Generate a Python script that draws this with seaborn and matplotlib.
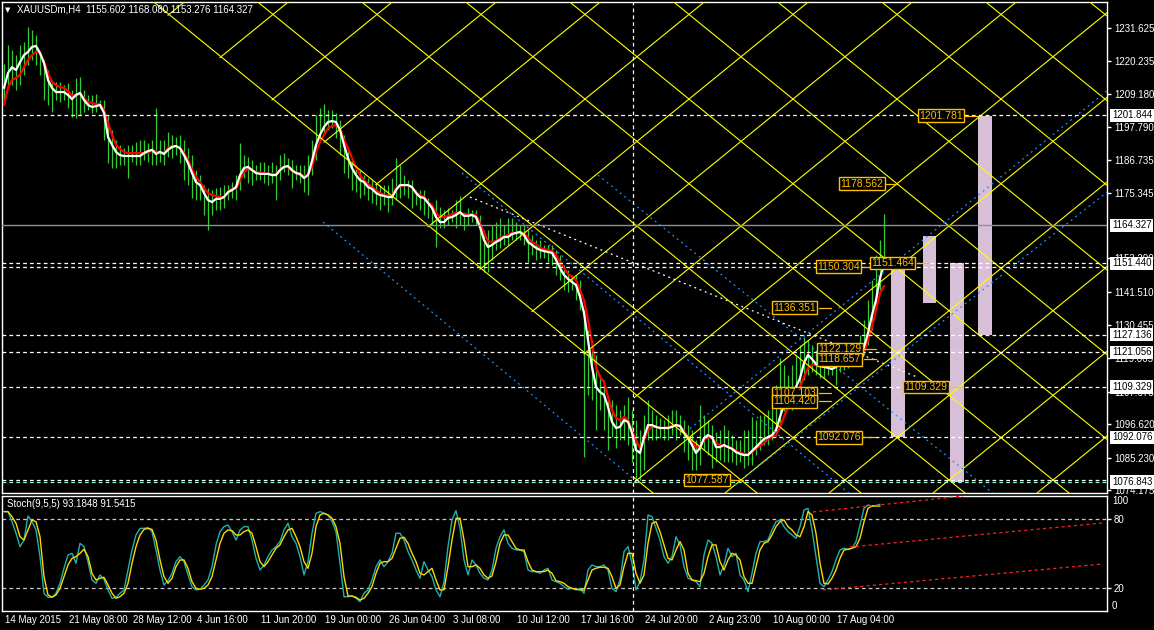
import numpy as np
import pandas as pd
import matplotlib
matplotlib.use("Agg")
import matplotlib.pyplot as plt
import matplotlib.transforms as mtransforms
from matplotlib.collections import LineCollection
from matplotlib.patches import Polygon, Rectangle
import seaborn as sns

# ------------------------------------------------------------------ data
# one sample every 2 H4 bars (bar index = 2*i)
ma_fast = [1211.2,1216.3,1218.3,1217.3,1220.0,1222.4,1223.5,1225.2,1225.5,1223.1,
           1219.7,1213.9,1211.2,1209.8,1209.8,1209.8,1208.8,1207.4,1208.8,1209.5,
           1207.1,1205.4,1204.7,1205.0,1205.4,1202.7,1194.5,1191.8,1189.4,1188.3,
           1188.0,1188.0,1188.0,1188.0,1188.0,1189.0,1189.7,1190.1,1188.7,1189.4,
           1188.7,1190.1,1191.1,1191.4,1190.7,1188.3,1185.6,1182.2,1179.1,1178.1,
           1175.4,1173.0,1172.3,1173.4,1173.4,1174.0,1175.7,1176.4,1177.4,1181.5,
           1183.9,1184.3,1183.2,1182.2,1181.9,1181.9,1181.9,1181.5,1181.5,1183.2,
           1184.3,1184.6,1183.2,1182.2,1181.9,1180.5,1181.5,1186.3,1191.8,1195.2,
           1197.9,1199.6,1199.9,1199.6,1196.9,1191.8,1187.3,1183.9,1181.5,1179.8,
           1179.1,1177.4,1176.8,1175.4,1174.7,1174.4,1174.0,1174.0,1176.4,1178.1,
           1178.1,1178.1,1177.4,1175.4,1174.0,1173.7,1172.0,1170.3,1167.2,1165.5,
           1165.5,1166.9,1167.2,1167.9,1168.9,1167.6,1167.6,1167.9,1167.2,1163.8,
           1159.4,1157.0,1157.7,1158.7,1159.4,1160.4,1160.4,1161.4,1161.8,1162.1,
           1161.1,1158.7,1157.7,1156.7,1156.0,1155.6,1155.3,1155.0,1152.6,1149.8,
           1147.5,1146.1,1145.1,1144.0,1140.0,1134.5,1125.3,1116.1,1109.3,1107.6,
           1106.6,1102.5,1097.4,1095.3,1095.7,1098.0,1097.4,1093.6,1087.8,1086.8,
           1092.2,1096.3,1096.3,1095.7,1095.3,1095.3,1095.3,1095.7,1096.3,1096.0,
           1093.6,1091.9,1089.5,1086.8,1088.5,1091.9,1092.9,1092.2,1088.8,1088.8,
           1089.5,1088.8,1088.2,1087.1,1086.5,1086.1,1086.1,1087.5,1088.8,1090.2,
           1091.6,1092.2,1092.9,1094.6,1099.1,1103.1,1105.5,1107.2,1109.3,1112.3,
           1117.5,1120.2,1118.8,1117.1,1116.4,1116.1,1115.8,1115.4,1116.1,1117.1,
           1117.8,1118.1,1118.5,1118.8,1119.5,1122.9,1127.7,1133.8,1138.9,1146.4,1150.9]

ma_slow = [1205.4,1211.2,1213.9,1214.6,1215.6,1218.3,1220.7,1222.4,1223.5,1223.1,
           1220.0,1216.3,1213.2,1212.2,1211.5,1211.2,1210.2,1208.5,1208.8,1209.1,
           1207.8,1206.4,1206.1,1205.7,1205.7,1203.7,1199.3,1195.2,1191.8,1190.4,
           1189.4,1189.0,1189.0,1189.0,1189.0,1189.0,1189.0,1190.1,1189.4,1189.4,
           1189.0,1190.7,1191.4,1191.4,1190.7,1189.0,1186.6,1183.6,1180.9,1179.1,
           1177.1,1175.4,1174.7,1174.4,1174.0,1174.0,1175.7,1176.8,1176.8,1179.8,
           1182.6,1183.6,1183.2,1182.6,1182.2,1182.2,1181.9,1181.9,1181.9,1183.2,
           1184.3,1184.3,1182.9,1182.2,1181.5,1181.2,1181.5,1184.3,1189.4,1192.8,
           1195.2,1197.5,1198.2,1198.6,1197.5,1193.5,1190.7,1187.3,1184.3,1181.5,
           1179.8,1178.5,1177.4,1176.4,1175.4,1174.7,1174.4,1174.4,1177.1,1177.8,
           1178.1,1178.1,1177.4,1175.7,1174.7,1174.0,1172.3,1171.3,1168.6,1167.2,
           1167.2,1167.6,1168.2,1168.6,1168.6,1168.2,1168.2,1168.2,1167.9,1165.2,
           1161.8,1159.0,1158.7,1159.0,1160.1,1160.7,1161.1,1161.8,1161.8,1162.1,
           1161.8,1160.1,1158.7,1158.0,1156.7,1156.3,1156.0,1155.6,1154.3,1151.9,
           1149.8,1147.8,1146.8,1145.7,1142.3,1138.9,1132.1,1124.3,1116.1,1112.7,
           1111.0,1105.9,1101.4,1098.7,1098.0,1099.1,1098.0,1094.6,1091.2,1088.5,
           1091.2,1094.6,1095.7,1095.7,1095.3,1095.3,1095.7,1096.0,1096.3,1096.0,
           1094.3,1092.2,1090.5,1088.8,1088.8,1091.2,1092.2,1091.9,1090.2,1089.5,
           1089.5,1088.8,1088.5,1087.5,1086.8,1086.5,1086.5,1087.1,1088.5,1089.2,
           1090.2,1091.6,1092.2,1092.9,1095.7,1099.1,1102.5,1104.9,1107.2,1109.3,
           1112.7,1115.8,1116.8,1116.8,1116.8,1116.8,1116.4,1116.1,1116.4,1116.8,
           1117.5,1117.5,1117.8,1118.5,1119.2,1121.2,1125.3,1129.7,1135.5,1141.3,1143.7]

bar_high = [1219.4,1225.8,1224.1,1222.4,1225.8,1226.9,1232.0,1230.9,1229.2,1222.4,
            1220.7,1217.3,1213.9,1213.2,1213.2,1212.2,1212.9,1210.5,1214.6,1214.9,
            1210.5,1208.8,1208.8,1209.1,1207.1,1207.1,1202.0,1196.9,1193.5,1191.8,
            1190.7,1191.8,1191.8,1192.8,1193.5,1193.5,1192.4,1193.5,1204.4,1193.5,
            1193.5,1196.2,1195.2,1194.5,1195.2,1193.5,1190.7,1188.3,1183.2,1181.5,
            1178.1,1177.1,1176.4,1177.1,1177.4,1178.1,1178.1,1179.1,1181.5,1192.4,
            1188.3,1187.7,1186.6,1184.9,1186.0,1186.0,1184.9,1186.0,1184.9,1188.3,
            1189.0,1187.3,1186.6,1184.9,1184.9,1184.9,1188.3,1193.5,1202.0,1204.4,
            1205.7,1203.7,1203.7,1202.7,1200.3,1195.2,1190.1,1186.6,1184.9,1183.2,
            1181.5,1180.5,1179.8,1178.8,1178.1,1178.1,1178.1,1180.5,1187.3,1184.9,
            1181.5,1179.8,1179.8,1176.4,1176.4,1176.4,1173.7,1171.3,1173.0,1170.6,
            1169.6,1170.3,1169.6,1173.0,1174.4,1168.9,1170.3,1169.6,1169.6,1167.9,
            1162.8,1162.8,1164.5,1165.5,1166.9,1164.5,1166.9,1166.9,1165.5,1164.5,
            1164.5,1162.8,1161.1,1159.4,1159.4,1157.7,1157.7,1157.7,1156.0,1154.3,
            1150.9,1149.2,1147.5,1147.5,1145.7,1135.5,1128.7,1125.3,1120.2,1113.4,
            1111.7,1104.9,1104.9,1103.1,1101.4,1103.1,1105.9,1101.4,1098.0,1094.6,
            1099.7,1104.9,1101.4,1099.7,1098.7,1098.0,1099.7,1101.4,1101.4,1099.7,
            1098.0,1096.3,1094.6,1091.2,1103.1,1099.7,1098.0,1096.3,1093.9,1094.6,
            1096.3,1094.6,1092.9,1091.2,1091.2,1094.6,1094.6,1099.1,1098.0,1099.7,
            1099.7,1101.4,1104.9,1109.9,1119.2,1116.8,1113.4,1116.8,1120.2,1123.6,
            1126.3,1125.3,1123.6,1121.9,1120.2,1120.2,1120.2,1120.2,1118.5,1120.2,
            1120.2,1121.2,1121.9,1123.6,1127.0,1132.1,1138.9,1145.7,1154.3,1159.4,1168.2]

bar_low = [1207.1,1212.2,1212.2,1210.5,1212.2,1215.6,1219.0,1220.7,1219.0,1215.6,
           1207.1,1205.4,1203.0,1207.1,1206.4,1207.1,1204.4,1201.3,1200.9,1202.0,
           1203.0,1203.7,1202.7,1203.0,1204.4,1193.5,1185.6,1183.9,1183.9,1184.9,
           1184.9,1180.5,1186.0,1184.9,1184.9,1186.6,1186.0,1184.9,1184.9,1186.0,
           1184.9,1187.7,1187.3,1188.3,1185.6,1179.8,1178.1,1173.7,1173.0,1173.0,
           1167.9,1162.8,1167.9,1169.6,1169.6,1170.3,1173.0,1173.7,1173.0,1176.4,
           1180.5,1178.8,1178.1,1179.8,1179.8,1178.8,1178.1,1178.8,1173.0,1179.8,
           1182.6,1181.5,1177.1,1179.8,1178.8,1175.7,1174.7,1181.5,1186.6,1193.5,
           1195.2,1196.9,1197.5,1194.1,1188.3,1182.2,1180.5,1176.4,1175.7,1173.7,
           1174.7,1173.0,1172.0,1171.3,1169.6,1171.3,1168.9,1171.3,1173.0,1173.7,
           1174.7,1173.7,1170.3,1171.3,1169.6,1167.9,1166.9,1164.5,1157.0,1163.5,
           1163.5,1164.5,1165.5,1163.5,1164.5,1162.8,1164.5,1165.5,1164.5,1149.8,
           1148.5,1148.5,1152.6,1156.0,1156.7,1157.7,1157.7,1159.4,1159.4,1159.4,
           1157.7,1151.9,1154.3,1152.6,1153.2,1153.2,1151.9,1150.9,1147.5,1145.7,
           1142.3,1141.7,1142.3,1138.9,1135.5,1085.4,1106.6,1104.9,1094.6,1101.4,
           1094.6,1087.8,1092.2,1088.5,1091.2,1091.2,1089.5,1083.7,1078.3,1077.6,
           1081.0,1091.2,1091.2,1091.2,1091.9,1091.2,1091.2,1092.9,1091.2,1092.9,
           1087.1,1084.4,1081.0,1081.0,1082.7,1087.8,1086.1,1081.7,1083.7,1084.4,
           1083.7,1083.7,1083.7,1082.7,1083.7,1081.7,1082.7,1082.7,1086.1,1087.8,
           1089.5,1089.5,1091.2,1092.5,1096.3,1101.0,1103.1,1101.4,1104.9,1106.6,
           1111.7,1113.4,1114.4,1113.4,1112.3,1112.3,1113.4,1113.4,1110.0,1114.4,
           1115.1,1115.8,1116.8,1116.8,1118.5,1120.2,1123.6,1128.7,1135.5,1142.3,1149.5]

stoch_main = [86.7,86.7,77.9,67.8,56.1,61.9,82.9,77.9,70.7,47.4,
              15.4,11.9,11.9,15.4,24.1,37.2,48.8,50.3,41.6,59.0,
              56.1,43.0,27.0,24.1,31.4,27.6,18.3,11.0,11.9,15.4,
              18.3,35.7,53.2,66.3,72.1,72.1,72.7,69.2,53.2,35.7,
              22.6,26.4,32.8,43.0,47.4,43.0,31.4,21.2,18.3,18.9,
              22.6,27.0,38.6,57.6,69.2,73.6,75.0,69.2,61.9,70.7,
              73.6,73.6,61.9,45.9,35.7,40.1,47.4,53.2,56.1,60.5,
              70.7,76.5,64.8,59.0,47.4,31.4,43.0,67.8,85.2,86.7,
              85.2,83.8,77.9,69.2,41.6,12.4,12.4,13.0,11.0,8.1,
              15.4,18.3,27.0,38.6,44.5,38.6,43.0,50.3,67.8,67.8,
              61.9,51.7,44.5,35.7,28.5,43.0,35.7,29.9,18.3,12.4,
              25.5,56.1,79.4,87.6,72.1,44.5,31.4,44.5,40.1,32.8,
              28.5,27.0,35.7,54.7,64.8,70.7,59.0,54.7,53.2,53.2,
              51.7,35.7,34.3,34.3,32.8,35.7,37.2,27.0,25.5,24.1,
              21.2,18.9,19.7,18.3,19.7,15.4,35.7,40.1,38.6,38.6,
              40.1,35.7,19.7,16.8,27.0,51.7,56.1,41.6,18.3,25.5,
              44.5,83.8,82.3,72.1,61.9,47.4,41.6,47.4,64.8,57.6,
              38.6,28.5,27.0,25.5,21.2,48.8,61.9,59.0,47.4,31.4,
              40.1,54.7,47.4,50.3,31.4,27.0,16.8,32.8,50.3,60.5,
              60.5,61.9,70.7,77.9,79.4,73.6,69.2,66.3,63.4,73.6,
              88.1,89.6,70.7,47.4,24.1,21.2,27.0,34.3,44.5,53.2,
              54.7,53.8,54.7,60.5,75.0,89.6,92.5,91.6,91.9,93.2]

stoch_signal = [86.7,86.7,82.3,76.5,64.8,61.9,70.7,79.4,77.9,64.8,
                29.9,13.9,11.9,13.9,19.7,29.9,40.1,45.9,47.4,50.3,
                53.8,47.4,32.8,27.0,28.5,29.3,22.6,15.4,11.0,12.4,
                15.4,24.1,41.6,56.1,66.3,71.2,72.1,71.2,61.9,44.5,
                29.9,24.1,28.5,38.6,44.5,44.5,37.2,25.5,19.7,18.9,
                19.7,22.6,29.9,44.5,59.0,67.8,70.7,70.1,66.3,66.3,
                69.2,70.7,67.8,56.1,43.0,38.6,43.0,48.8,54.7,57.6,
                64.8,70.7,72.1,64.8,56.1,43.0,37.2,50.3,73.6,83.8,
                85.2,83.8,80.9,73.6,59.0,29.9,13.0,13.0,11.9,9.5,
                11.0,15.4,21.2,32.8,41.6,43.0,43.0,45.9,54.7,63.4,
                64.3,59.0,50.3,43.0,32.8,31.4,34.3,37.2,27.0,18.3,
                18.3,38.6,61.9,80.9,80.9,61.9,38.6,38.6,40.1,37.2,
                31.4,28.5,30.5,43.0,59.0,66.3,66.3,60.5,54.7,53.2,
                53.2,43.0,35.7,34.3,34.3,34.3,35.7,32.8,26.4,25.5,
                24.1,21.2,19.7,18.9,18.3,18.3,27.0,35.7,37.2,38.1,
                38.1,37.2,29.9,19.7,22.6,38.6,50.3,50.3,32.8,24.1,
                31.4,59.0,76.5,77.9,69.2,57.6,45.9,44.5,53.2,60.5,
                53.2,32.8,27.0,26.4,25.5,32.8,47.4,57.6,57.6,43.0,
                35.7,44.5,50.3,48.8,44.5,29.9,24.1,24.1,38.6,53.2,
                59.0,60.5,66.3,73.6,77.9,79.4,73.6,70.7,66.3,64.8,
                73.6,86.7,83.8,67.8,41.6,24.1,23.5,28.5,35.7,45.9,
                53.2,53.8,54.7,56.1,63.4,77.9,89.6,91.6,91.6,91.5]

header_text = "XAUUSDm,H4  1155.602 1168.080 1153.276 1164.327"
stoch_title = "Stoch(9,5,5) 93.1848 91.5415"
bid_price = 1164.327

levels_white = [1201.844, 1151.464, 1150.304, 1127.136, 1121.056, 1109.329, 1092.076, 1077.587]
levels_aqua = [1076.843]

axis_plain = [1231.625, 1220.235, 1209.180, 1197.790, 1186.735, 1175.345, 1153.290,
              1141.510, 1130.455, 1119.065, 1107.675, 1096.620, 1085.230, 1074.175]
axis_marked = [1201.844, 1164.327, 1151.440, 1127.136, 1121.056, 1109.329, 1092.076, 1076.843]

date_bars = [0, 32, 64, 96, 128, 160, 192, 224, 256, 288, 320, 352, 384, 416]
date_labels = ["14 May 2015", "21 May 08:00", "28 May 12:00", "4 Jun 16:00", "11 Jun 20:00",
               "19 Jun 00:00", "26 Jun 04:00", "3 Jul 08:00", "10 Jul 12:00", "17 Jul 16:00",
               "24 Jul 20:00", "2 Aug 23:00", "10 Aug 00:00", "17 Aug 04:00"]

# price labels drawn on the chart: text, bar of left edge, price
tag_text = ["1201.781", "1178.562", "1150.304", "1151.464", "1136.351", "1122.129",
            "1118.657", "1107.103", "1104.420", "1109.329", "1092.076", "1077.587"]
tag_bar = [457, 417.5, 406, 433, 384, 406.5, 406.5, 384, 384, 449.5, 406, 340]
tag_price = [1201.781, 1178.562, 1150.304, 1151.464, 1136.351, 1122.129,
             1118.657, 1107.103, 1104.420, 1109.329, 1092.076, 1077.587]

# projection boxes (bar centre, top price, bottom price)
box_bar = [447.5, 463.3, 477.0, 491.0]
box_top = [1150.304, 1160.8, 1151.464, 1201.781]
box_bottom = [1092.076, 1137.9, 1076.843, 1127.136]

# Gann grid: anchor at the 1077.587 low, 26 bars x 14.425 per half cell
gann_anchor_bar = 317
gann_anchor_price = 1077.587
gann_half_bars = 26.0
gann_half_price = 14.425

# channel lines (bar, price) pairs
blue_lines = [((160, 1165.5), (318.5, 1076.2)),
              ((229.5, 1182.2), (423.5, 1072.8)),
              ((297.5, 1181.5), (496, 1072.5)),
              ((343.5, 1095.1), (552, 1210.2)),
              ((366, 1075.9), (552, 1175.7))]
white_trend = ((233.5, 1174.0), (457, 1112.7))
stoch_trends = [((405, 86.4), (480, 100.3)),
                ((423.5, 55.8), (550, 76.8)),
                ((410, 18.3), (550, 41.0))]
cursor_bar = 315

# ------------------------------------------------------------------ style
sns.set_theme(style="dark", rc={"axes.facecolor": "black", "figure.facecolor": "black",
                                "axes.grid": False, "axes.edgecolor": "white",
                                "text.color": "white", "xtick.color": "white",
                                "ytick.color": "white"})
plt.rcParams["font.family"] = ["Liberation Sans", "DejaVu Sans"]

W, H = 1154, 630
fig = plt.figure(figsize=(W / 100, H / 100), dpi=100, facecolor="black")


def px_axes(x0, y0, x1, y1):
    return fig.add_axes([x0 / W, 1 - y1 / H, (x1 - x0) / W, (y1 - y0) / H])


ax = px_axes(2, 2, 1107, 493)
ax2 = px_axes(2, 496, 1107, 611)
XMIN, XMAX = -0.5, 552
YMIN, YMAX = 1073.16, 1240.49

for a in (ax, ax2):
    a.set_facecolor("black")
    a.set_xlim(XMIN, XMAX)
    for sp in a.spines.values():
        sp.set_color("white")
        sp.set_linewidth(1.0)
ax.set_ylim(YMIN, YMAX)
ax2.set_ylim(-0.1, 100.35)

n = len(ma_fast)
xb = 2 * np.arange(n) + 0.5
df = pd.DataFrame({"bar": xb, "fast": ma_fast, "slow": ma_slow,
                   "high": bar_high, "low": bar_low})

# projection boxes
for b, t, bt in zip(box_bar, box_top, box_bottom):
    ax.add_patch(Rectangle((b - 3.3, bt), 6.6, t - bt, facecolor="#D8BFD8",
                           edgecolor="none", zorder=1))

# price bars
ax.vlines(df["bar"], df["low"], df["high"], color="#32CD32", linewidth=0.9, zorder=2)

# moving averages
sns.lineplot(data=df, x="bar", y="slow", ax=ax, color="#FF0000", linewidth=1.6,
             legend=False, zorder=3)
sns.lineplot(data=df, x="bar", y="fast", ax=ax, color="white", linewidth=1.6,
             legend=False, zorder=3.5)

# Gann grid
s = gann_half_price / gann_half_bars
step = 2 * gann_half_price
cd0 = gann_anchor_price + s * gann_anchor_bar
ca0 = gann_anchor_price - s * gann_anchor_bar
b0, b1 = -2.0, 560.0
segs = []
for k in range(-12, 16):
    c = cd0 + k * step
    segs.append([(b0, c - s * b0), (b1, c - s * b1)])
    c = ca0 + k * step
    segs.append([(b0, c + s * b0), (b1, c + s * b1)])
cb = cd0 + step - 0.8          # lower-left border of the grid (slightly widened)
ytop = YMAX + 10
ybot = YMIN - 10
clip = Polygon([((cb - ytop) / s, ytop), (gann_anchor_bar - 1.5, cb - s * (gann_anchor_bar - 1.5)),
                (gann_anchor_bar - 1.5, ybot), (b1, ybot), (b1, ytop)], closed=True,
               transform=ax.transData, facecolor="none", edgecolor="none")
lc = LineCollection(segs, colors="#FFFF00", linewidths=0.8, zorder=4)
ax.add_collection(lc)
lc.set_clip_path(clip)

# channel lines
for (p, q) in blue_lines:
    ax.plot([p[0], q[0]], [p[1], q[1]], color="#1E90FF", linewidth=0.9,
            linestyle=(0, (1.5, 3)), zorder=4)
ax.plot([white_trend[0][0], white_trend[1][0]], [white_trend[0][1], white_trend[1][1]],
        color="white", linewidth=0.9, linestyle=(0, (1.5, 3)), zorder=4)

# horizontal levels
for lv in levels_white:
    ax.axhline(lv, color="white", linewidth=0.9, linestyle=(0, (3, 2.5)), zorder=4)
for lv in levels_aqua:
    ax.axhline(lv, color="#7FFFD4", linewidth=0.9, linestyle=(0, (3, 2.5)), zorder=4)
ax.axhline(bid_price, color="#909090", linewidth=1.0, zorder=4)
ax.axvline(cursor_bar, color="white", linewidth=0.9, linestyle=(0, (3, 2.5)), zorder=4)
ax2.axvline(cursor_bar, color="white", linewidth=0.9, linestyle=(0, (3, 2.5)), zorder=4)

# on-chart price tags
for t, b, p in zip(tag_text, tag_bar, tag_price):
    ax.text(b + 1.2, p, t, color="#FFC000", fontsize=7.5, ha="left", va="center",
            zorder=6, bbox=dict(boxstyle="square,pad=0.12", facecolor="black",
                                edgecolor="#FFC000", linewidth=1.0))
    ax.plot([b + 24, b + 30], [p, p], color="#FFC000", linewidth=0.9, zorder=5)

# right price axis
ax.yaxis.tick_right()
ax.set_yticks(axis_plain)
ax.set_yticklabels([f"{v:.3f}" for v in axis_plain])
ax.tick_params(axis="y", colors="white", length=3, width=1, pad=2, labelsize=7)
ax.tick_params(axis="x", bottom=False, labelbottom=False)
ax.set_xlabel("")
ax.set_ylabel("")
tr = mtransforms.blended_transform_factory(ax.transAxes, ax.transData)
for v in axis_marked:
    ax.text(1.0045, v, f"{v:.3f}", transform=tr, ha="left", va="center", fontsize=7,
            color="black", clip_on=False, zorder=10,
            bbox=dict(boxstyle="square,pad=0.18", facecolor="white", edgecolor="none"))

# stochastic panel
xs = 2 * np.arange(len(stoch_main)) + 0.5
sdf = pd.DataFrame({"bar": xs, "main": stoch_main, "signal": stoch_signal})
for lv in (20, 80):
    ax2.axhline(lv, color="#C8C8C8", linewidth=0.9, linestyle=(0, (3, 2.5)), zorder=1)
sns.lineplot(data=sdf, x="bar", y="main", ax=ax2, color="#20B2AA", linewidth=1.0,
             legend=False, zorder=3)
sns.lineplot(data=sdf, x="bar", y="signal", ax=ax2, color="#FFD700", linewidth=1.0,
             legend=False, zorder=3.5)
for (p, q) in stoch_trends:
    ax2.plot([p[0], q[0]], [p[1], q[1]], color="#FF2020", linewidth=0.9,
             linestyle=(0, (2.5, 2.5)), zorder=4)
ax2.yaxis.tick_right()
ax2.set_yticks([20, 80])
ax2.set_yticklabels(["20", "80"])
ax2.tick_params(axis="y", colors="white", length=3, width=1, pad=2, labelsize=7)
tr2 = mtransforms.blended_transform_factory(ax2.transAxes, ax2.transData)
ax2.text(1.0045, 100, "100", transform=tr2, ha="left", va="top", fontsize=7,
         color="white", clip_on=False)
ax2.text(1.0045, 0, "0", transform=tr2, ha="left", va="bottom", fontsize=7,
         color="white", clip_on=False)
ax2.set_xticks(date_bars)
ax2.set_xticklabels([""] * len(date_bars))
ax2.tick_params(axis="x", colors="white", length=3, width=1, direction="out")
ax2.set_xlabel("")
ax2.set_ylabel("")
trx = mtransforms.blended_transform_factory(ax2.transData, ax2.transAxes)
for b, lab in zip(date_bars, date_labels):
    ax2.text(b + 1.0, -0.075, lab, transform=trx, ha="left", va="center", fontsize=7,
             color="white", clip_on=False)

# titles
fig.text(5 / W, 1 - 10 / H, "\u25BC", fontsize=5, color="white", va="center",
         family=["DejaVu Sans"])
fig.text(17 / W, 1 - 10 / H, header_text, fontsize=7, color="white", va="center")
fig.text(7 / W, 1 - 504 / H, stoch_title, fontsize=7, color="white", va="center")

fig.savefig("out.png", dpi=100, facecolor="black")
